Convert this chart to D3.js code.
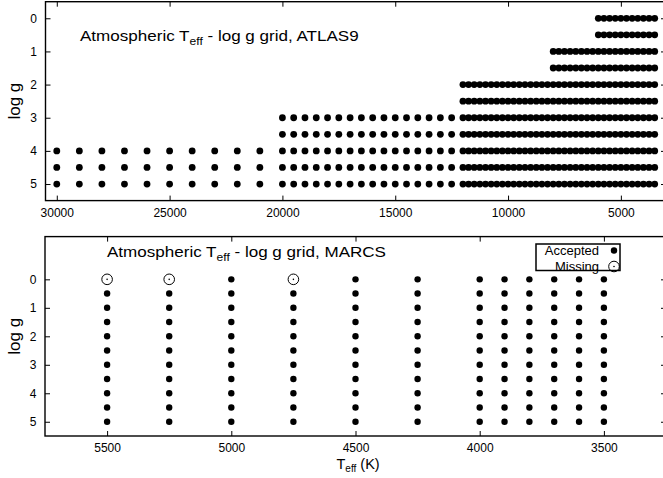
<!DOCTYPE html>
<html>
<head>
<meta charset="utf-8">
<script src="https://cdn.jsdelivr.net/npm/d3@7"></script>
<style>
  body { margin: 0; background: #fff; }
  svg { display: block; font-family: "Liberation Sans", Arial, Helvetica, sans-serif; }
  .tick line { stroke: #000; }
  .tick text { fill: #000; font-size: 12px; font-family: "Liberation Sans", Arial, Helvetica, sans-serif; }
</style>
</head>
<body>
<div id="chart"></div>
<script>
// ATLAS9 grid: Teff nodes in three spacing regimes
const atlasHot = [30000, 29000, 28000, 27000, 26000, 25000, 24000, 23000, 22000, 21000];
const atlasMid = [20000, 19500, 19000, 18500, 18000, 17500, 17000, 16500, 16000, 15500,
  15000, 14500, 14000, 13500, 13000, 12500];
const atlasCool = [12000, 11750, 11500, 11250, 11000, 10750, 10500, 10250, 10000, 9750,
  9500, 9250, 9000, 8750, 8500, 8250, 8000, 7750, 7500, 7250, 7000, 6750, 6500, 6250,
  6000, 5750, 5500, 5250, 5000, 4750, 4500, 4250, 4000, 3750, 3500];
// each log g row runs from 3500 K up to this hottest Teff
const atlasLogg = [0, 0.5, 1, 1.5, 2, 2.5, 3, 3.5, 4, 4.5, 5];
const atlasTmax = [6000, 6000, 8000, 8000, 12000, 12000, 20000, 20000, 30000, 30000, 30000];

// MARCS grid
const marcsTeff = [5500, 5250, 5000, 4750, 4500, 4250, 4000, 3900, 3800, 3700, 3600, 3500];
const marcsLogg = [0, 0.5, 1, 1.5, 2, 2.5, 3, 3.5, 4, 4.5, 5];
const marcsMissing = [[5500, 0], [5250, 0], [4750, 0]];

const atlasXTicks = [30000, 25000, 20000, 15000, 10000, 5000];
const marcsXTicks = [5500, 5000, 4500, 4000, 3500];
const yTicks = [0, 1, 2, 3, 4, 5];

const W = 663, H = 478;
const svg = d3.select('#chart').append('svg')
  .attr('width', W)
  .attr('height', H);

const allAtlasTeff = atlasHot.concat(atlasMid, atlasCool);
const atlasPts = [];
atlasLogg.forEach((g, i) => {
  allAtlasTeff.filter(t => t <= atlasTmax[i]).forEach(t => atlasPts.push({ t, g }));
});

const missingKey = new Set(marcsMissing.map(d => d.join('|')));
const marcsPts = [];
marcsTeff.forEach(t => marcsLogg.forEach(g => {
  marcsPts.push({ t, g, missing: missingKey.has(t + '|' + g) });
}));

function panel(opts) {
  const x = d3.scaleLinear().domain(opts.xDomain).range([opts.left, opts.right]);
  const y = d3.scaleLinear().domain(opts.yDomain).range([opts.top, opts.bottom]);
  const g = svg.append('g');

  g.append('g')
    .attr('transform', `translate(0,${opts.bottom})`)
    .call(d3.axisBottom(x).tickValues(opts.xTicks).tickSize(-5).tickPadding(opts.xPad).tickFormat(d3.format('d')))
    .call(s => s.select('.domain').remove());
  g.append('g')
    .attr('transform', `translate(0,${opts.top})`)
    .call(d3.axisTop(x).tickValues(opts.xTicks).tickSize(-5).tickFormat(''))
    .call(s => s.select('.domain').remove());
  g.append('g')
    .attr('transform', `translate(${opts.left},0)`)
    .call(d3.axisLeft(y).tickValues(yTicks).tickSize(-5).tickPadding(8.5).tickFormat(d3.format('d')))
    .call(s => s.select('.domain').remove());
  g.append('g')
    .attr('transform', `translate(${opts.right},0)`)
    .call(d3.axisRight(y).tickValues(yTicks).tickSize(-5).tickFormat(''))
    .call(s => s.select('.domain').remove());

  g.selectAll('.tick line').attr('stroke-width', 1);

  g.append('rect')
    .attr('x', opts.left).attr('y', opts.top)
    .attr('width', opts.right - opts.left).attr('height', opts.bottom - opts.top)
    .attr('fill', 'none').attr('stroke', '#000').attr('stroke-width', 1.4);

  // y label
  g.append('text')
    .attr('transform', `translate(20,${(opts.top + opts.bottom) / 2}) rotate(-90)`)
    .attr('text-anchor', 'middle')
    .attr('font-size', 17)
    .text('log g');

  // title
  const t = g.append('text')
    .attr('transform', `translate(${opts.titleX},${opts.titleY}) scale(1.1,1)`)
    .attr('font-size', 15.5);
  t.append('tspan').text('Atmospheric T');
  t.append('tspan').attr('font-size', 11).attr('dy', 4).text('eff');
  t.append('tspan').attr('dy', -4).text(' - log g grid, ' + opts.name);

  return { g, x, y };
}

// top panel: ATLAS9
const p1 = panel({
  xDomain: [30500, 3000], yDomain: [-0.5, 5.5],
  left: 45.5, right: 666, top: 1.7, bottom: 200.6,
  xTicks: atlasXTicks, xPad: 8,
  titleX: 80, titleY: 40.5, name: 'ATLAS9'
});
p1.g.append('g').selectAll('circle')
  .data(atlasPts)
  .join('circle')
  .attr('cx', d => p1.x(d.t))
  .attr('cy', d => p1.y(d.g))
  .attr('r', 3.4)
  .attr('fill', '#000');

// bottom panel: MARCS
const p2 = panel({
  xDomain: [5750, 3250], yDomain: [-1.5, 5.5],
  left: 45, right: 666, top: 236.6, bottom: 436,
  xTicks: marcsXTicks, xPad: 7.5,
  titleX: 107, titleY: 256.5, name: 'MARCS'
});
const acc = p2.g.append('g');
acc.selectAll('circle')
  .data(marcsPts.filter(d => !d.missing))
  .join('circle')
  .attr('cx', d => p2.x(d.t))
  .attr('cy', d => p2.y(d.g))
  .attr('r', 3.2)
  .attr('fill', '#000');
const miss = p2.g.append('g')
  .selectAll('g')
  .data(marcsPts.filter(d => d.missing))
  .join('g')
  .attr('transform', d => `translate(${p2.x(d.t)},${p2.y(d.g)})`);
miss.append('circle').attr('r', 5.3).attr('fill', 'none').attr('stroke', '#000').attr('stroke-width', 1);
miss.append('circle').attr('r', 0.8).attr('fill', '#000');

// x label
const xl = svg.append('text')
  .attr('x', 336.5).attr('y', 468.5)
  .attr('font-size', 14.5);
xl.append('tspan').text('T');
xl.append('tspan').attr('font-size', 10).attr('dy', 3).text('eff');
xl.append('tspan').attr('dy', -3).text(' (K)');

// legend
const leg = svg.append('g');
leg.append('rect')
  .attr('x', 536).attr('y', 244).attr('width', 84).attr('height', 26.5)
  .attr('fill', '#fff').attr('stroke', '#000').attr('stroke-width', 1.5);
const legItems = [{ label: 'Accepted', missing: false }, { label: 'Missing', missing: true }];
const li = leg.selectAll('.li')
  .data(legItems)
  .join('g')
  .attr('class', 'li')
  .attr('transform', (d, i) => `translate(0,${250.5 + i * 16})`);
li.append('text')
  .attr('x', 599).attr('dy', '0.35em')
  .attr('text-anchor', 'end')
  .attr('font-size', 13)
  .text(d => d.label);
li.filter(d => !d.missing).append('circle').attr('cx', 614).attr('r', 3.2).attr('fill', '#000');
li.filter(d => d.missing).append('circle').attr('cx', 614).attr('r', 5.3)
  .attr('fill', 'none').attr('stroke', '#000').attr('stroke-width', 1);
li.filter(d => d.missing).append('circle').attr('cx', 614).attr('r', 0.8).attr('fill', '#000');
</script>
</body>
</html>
